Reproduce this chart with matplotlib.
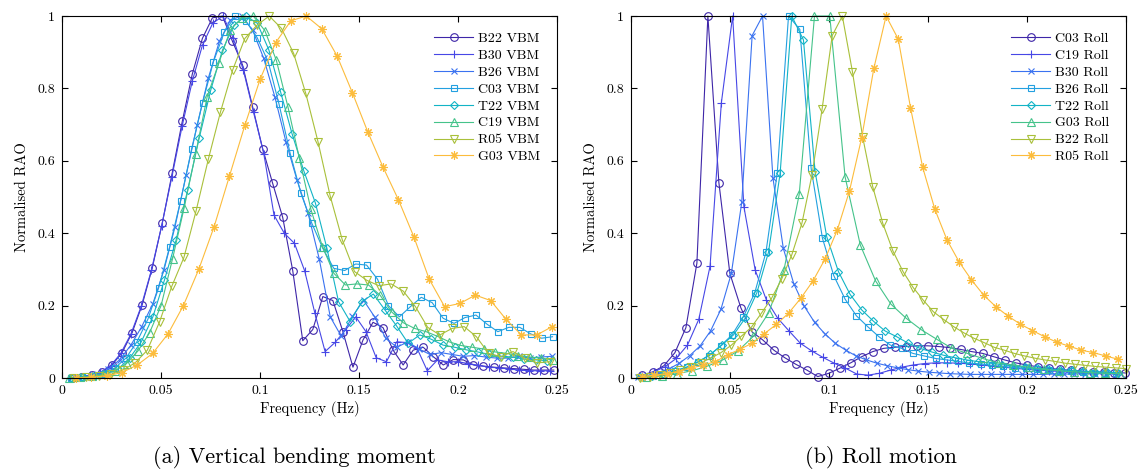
import numpy as np
import matplotlib
matplotlib.use('Agg')
import matplotlib.pyplot as plt

plt.rcParams['font.family'] = ['cmr10', 'DejaVu Serif']
plt.rcParams['mathtext.fontset'] = 'cm'
plt.rcParams['axes.formatter.use_mathtext'] = True

# --- Vertical bending moment: normalised RAO, each hull has its own frequency grid
vbm_names = ['B22 VBM', 'B30 VBM', 'B26 VBM', 'C03 VBM', 'T22 VBM', 'C19 VBM', 'R05 VBM', 'G03 VBM']
vbm_start = [0.005, 0.0039, 0.0067, 0.0047, 0.0049, 0.0035, 0.0062, 0.007]
vbm_step = [0.00507, 0.00516, 0.0056, 0.005524, 0.00586, 0.00582, 0.006155, 0.00776]

vbm_b22 = [0.0, 0.004, 0.008, 0.017, 0.036, 0.070, 0.125, 0.202, 0.303, 0.427,
           0.567, 0.709, 0.84, 0.938, 0.995, 1.0, 0.93, 0.865, 0.75, 0.634,
           0.538, 0.444, 0.297, 0.103, 0.134, 0.225, 0.214, 0.128, 0.03, 0.105,
           0.154, 0.139, 0.077, 0.036, 0.077, 0.085, 0.059, 0.036, 0.051, 0.05,
           0.036, 0.033, 0.03, 0.028, 0.026, 0.024, 0.022, 0.022, 0.022]
vbm_b30 = [0.0, 0.003, 0.007, 0.016, 0.034, 0.068, 0.122, 0.198, 0.298, 0.42,
           0.555, 0.695, 0.82, 0.92, 0.98, 1.0, 0.94, 0.85, 0.734, 0.62,
           0.45, 0.40, 0.372, 0.296, 0.179, 0.073, 0.099, 0.133, 0.169, 0.128,
           0.056, 0.045, 0.10, 0.098, 0.082, 0.02, 0.05, 0.045, 0.045, 0.04,
           0.035, 0.03, 0.028, 0.025, 0.022, 0.02, 0.02, 0.02]
vbm_b26 = [0.0, 0.004, 0.01, 0.025, 0.05, 0.09, 0.142, 0.205, 0.298, 0.418,
           0.56, 0.699, 0.828, 0.93, 0.989, 1.0, 0.961, 0.883, 0.777, 0.653,
           0.547, 0.455, 0.33, 0.169, 0.115, 0.17, 0.215, 0.169, 0.11, 0.085,
           0.10, 0.08, 0.065, 0.07, 0.065, 0.06, 0.062, 0.058, 0.055, 0.055,
           0.06, 0.055, 0.058, 0.06]
vbm_c03 = [0.0, 0.002, 0.005, 0.012, 0.028, 0.055, 0.1, 0.162, 0.25, 0.363,
           0.49, 0.632, 0.76, 0.874, 0.956, 1.0, 0.985, 0.94, 0.874, 0.756,
           0.622, 0.51, 0.427, 0.358, 0.303, 0.297, 0.315, 0.312, 0.273, 0.2,
           0.169, 0.197, 0.223, 0.208, 0.165, 0.151, 0.167, 0.174, 0.149, 0.128,
           0.14, 0.14, 0.122, 0.11, 0.114]
vbm_t22 = [0.0, 0.002, 0.005, 0.012, 0.025, 0.055, 0.1, 0.169, 0.271, 0.381,
           0.52, 0.664, 0.797, 0.906, 0.975, 1.0, 0.98, 0.906, 0.791, 0.674,
           0.573, 0.484, 0.358, 0.211, 0.156, 0.211, 0.232, 0.188, 0.144, 0.096,
           0.119, 0.107, 0.091, 0.085, 0.078, 0.072, 0.065, 0.06, 0.058, 0.052,
           0.05, 0.048]
vbm_c19 = [0.0, 0.002, 0.005, 0.01, 0.02, 0.04, 0.075, 0.125, 0.2, 0.33,
           0.47, 0.62, 0.777, 0.869, 0.961, 0.995, 1.0, 0.96, 0.878, 0.75,
           0.607, 0.466, 0.363, 0.289, 0.257, 0.26, 0.257, 0.229, 0.183, 0.153,
           0.137, 0.128, 0.115, 0.1, 0.09, 0.085, 0.08, 0.072, 0.068, 0.062,
           0.058, 0.055, 0.05]
vbm_r05 = [0.0, 0.002, 0.005, 0.01, 0.022, 0.042, 0.077, 0.155, 0.253, 0.333,
           0.462, 0.604, 0.735, 0.851, 0.938, 0.975, 1.0, 0.966, 0.897, 0.786,
           0.653, 0.503, 0.381, 0.294, 0.27, 0.255, 0.26, 0.24, 0.197, 0.14,
           0.119, 0.137, 0.142, 0.114, 0.068, 0.059, 0.073, 0.054, 0.042, 0.045]
vbm_g03 = [0.0, 0.002, 0.006, 0.015, 0.036, 0.068, 0.122, 0.2, 0.3, 0.418,
           0.558, 0.698, 0.826, 0.926, 0.987, 1.0, 0.965, 0.89, 0.788, 0.68,
           0.582, 0.492, 0.39, 0.273, 0.197, 0.206, 0.229, 0.214, 0.162, 0.119,
           0.119, 0.142]
vbm_vals = [vbm_b22, vbm_b30, vbm_b26, vbm_c03, vbm_t22, vbm_c19, vbm_r05, vbm_g03]

# --- Roll motion
roll_names = ['C03 Roll', 'C19 Roll', 'B30 Roll', 'B26 Roll', 'T22 Roll', 'G03 Roll', 'B22 Roll', 'R05 Roll']
roll_start = [0.0055, 0.0057, 0.0034, 0.0053, 0.0046, 0.00772, 0.0045, 0.0056]
roll_step = [0.00555, 0.0057, 0.00525, 0.00571, 0.00589, 0.00772, 0.00511, 0.00616]

roll_c03 = [0.008, 0.017, 0.034, 0.07, 0.139, 0.317, 1.0, 0.54, 0.289, 0.194,
            0.128, 0.105, 0.077, 0.056, 0.038, 0.022, 0.004, 0.013, 0.027, 0.042,
            0.059, 0.073, 0.082, 0.085, 0.087, 0.089, 0.089, 0.087, 0.084, 0.079,
            0.073, 0.068, 0.059, 0.05, 0.042, 0.036, 0.031, 0.027, 0.024, 0.021,
            0.019, 0.017, 0.016, 0.015, 0.014]
roll_c19 = [0.005, 0.017, 0.031, 0.054, 0.091, 0.162, 0.309, 0.76, 1.0, 0.473,
            0.298, 0.215, 0.165, 0.13, 0.096, 0.075, 0.057, 0.041, 0.027, 0.011,
            0.008, 0.013, 0.022, 0.03, 0.036, 0.04, 0.042, 0.042, 0.041, 0.039,
            0.036, 0.033, 0.03, 0.027, 0.024, 0.022, 0.02, 0.018, 0.016, 0.015,
            0.014, 0.013, 0.012]
roll_b30 = [0.002, 0.005, 0.013, 0.025, 0.041, 0.062, 0.089, 0.13, 0.19, 0.289,
            0.485, 0.946, 1.0, 0.553, 0.358, 0.261, 0.199, 0.154, 0.122, 0.096,
            0.077, 0.061, 0.05, 0.041, 0.034, 0.028, 0.023, 0.019, 0.016, 0.014,
            0.012, 0.011, 0.01, 0.01, 0.01, 0.01, 0.01, 0.01, 0.01, 0.01,
            0.011, 0.011, 0.011, 0.012, 0.012, 0.012, 0.012]
roll_b26 = [0.002, 0.006, 0.012, 0.02, 0.03, 0.045, 0.062, 0.089, 0.119, 0.169,
            0.234, 0.347, 0.565, 1.0, 0.963, 0.579, 0.386, 0.283, 0.218, 0.172,
            0.142, 0.114, 0.091, 0.082, 0.068, 0.061, 0.054, 0.05, 0.046, 0.041,
            0.039, 0.035, 0.032, 0.029, 0.027, 0.024, 0.022, 0.02, 0.019, 0.017,
            0.015, 0.014, 0.013]
roll_t22 = [0.002, 0.005, 0.011, 0.02, 0.03, 0.045, 0.065, 0.091, 0.119, 0.165,
            0.235, 0.347, 0.565, 1.0, 0.934, 0.57, 0.39, 0.294, 0.231, 0.188,
            0.157, 0.13, 0.114, 0.096, 0.082, 0.072, 0.063, 0.056, 0.05, 0.045,
            0.041, 0.037, 0.033, 0.03, 0.027, 0.025, 0.023, 0.021, 0.019, 0.017,
            0.016, 0.015]
roll_g03 = [0.002, 0.006, 0.012, 0.02, 0.033, 0.05, 0.075, 0.115, 0.18, 0.298,
            0.507, 1.0, 1.0, 0.556, 0.367, 0.268, 0.204, 0.165, 0.133, 0.107,
            0.082, 0.068, 0.054, 0.042, 0.036, 0.03, 0.024, 0.02, 0.017, 0.015,
            0.013, 0.012]
roll_b22 = [0.001, 0.004, 0.008, 0.013, 0.021, 0.03, 0.042, 0.055, 0.07, 0.09,
            0.115, 0.14, 0.179, 0.22, 0.273, 0.34, 0.427, 0.561, 0.743, 0.946,
            1.0, 0.846, 0.667, 0.529, 0.427, 0.351, 0.294, 0.25, 0.215, 0.183,
            0.162, 0.142, 0.125, 0.11, 0.098, 0.085, 0.077, 0.068, 0.061, 0.055,
            0.05, 0.046, 0.041, 0.038, 0.035, 0.032, 0.03, 0.028, 0.026]
roll_r05 = [0.004, 0.008, 0.012, 0.018, 0.027, 0.036, 0.045, 0.064, 0.079, 0.096,
            0.122, 0.148, 0.179, 0.22, 0.268, 0.329, 0.409, 0.517, 0.664, 0.856,
            1.0, 0.936, 0.747, 0.582, 0.466, 0.381, 0.32, 0.271, 0.229, 0.197,
            0.171, 0.149, 0.131, 0.114, 0.099, 0.088, 0.077, 0.07, 0.061, 0.052]
roll_vals = [roll_c03, roll_c19, roll_b30, roll_b26, roll_t22, roll_g03, roll_b22, roll_r05]

colors = ['#3e26a8', '#4747e6', '#3a72f0', '#23a0e0', '#12b4c6', '#45c38a', '#a9c03a', '#fcbc3c']
markers = ['o', '+', 'x', 's', 'D', '^', 'v', (8, 2, 0)]
msizes = [5.5, 6, 5, 5, 4.5, 5.5, 5.5, 6]

xticks = [0, 0.05, 0.1, 0.15, 0.2, 0.25]
xtick_labels = ['0', '0.05', '0.1', '0.15', '0.2', '0.25']
yticks = [0, 0.2, 0.4, 0.6, 0.8, 1]
ytick_labels = ['0', '0.2', '0.4', '0.6', '0.8', '1']

fig = plt.figure(figsize=(11.43, 4.70), dpi=100)
ax1 = fig.add_axes([0.0542, 0.1957, 0.4331, 0.7702])
ax2 = fig.add_axes([0.5521, 0.1957, 0.4331, 0.7702])


def draw(ax, names, starts, steps, vals, caption, cap_x):
    for i, (name, v) in enumerate(zip(names, vals)):
        f = starts[i] + steps[i] * np.arange(len(v))
        ax.plot(f, v, color=colors[i], lw=0.8, marker=markers[i], ms=msizes[i],
                mfc='none', mec=colors[i], mew=0.8, label=name, clip_on=False)
    ax.set_xlim(0, 0.25)
    ax.set_ylim(0, 1)
    ax.set_xticks(xticks)
    ax.set_xticklabels(xtick_labels)
    ax.set_yticks(yticks)
    ax.set_yticklabels(ytick_labels)
    ax.tick_params(direction='in', top=True, right=True, length=4, width=0.8,
                   labelsize=10, pad=5)
    for s in ax.spines.values():
        s.set_linewidth(0.8)
    ax.set_xlabel('Frequency (Hz)', fontsize=10.5, labelpad=3)
    ax.set_ylabel('Normalised RAO', fontsize=10.5, labelpad=6)
    ax.legend(loc='upper right', bbox_to_anchor=(0.965, 0.955), frameon=False,
              fontsize=10, handlelength=2.8, handletextpad=0.3, labelspacing=0.3,
              borderpad=0, borderaxespad=0, numpoints=1)
    fig.text(cap_x, 0.027, caption, ha='center', va='center', fontsize=16)


draw(ax1, vbm_names, vbm_start, vbm_step, vbm_vals, '(a) Vertical bending moment', 0.2577)
draw(ax2, roll_names, roll_start, roll_step, roll_vals, '(b) Roll motion', 0.771)

fig.savefig('out.png', dpi=100)
